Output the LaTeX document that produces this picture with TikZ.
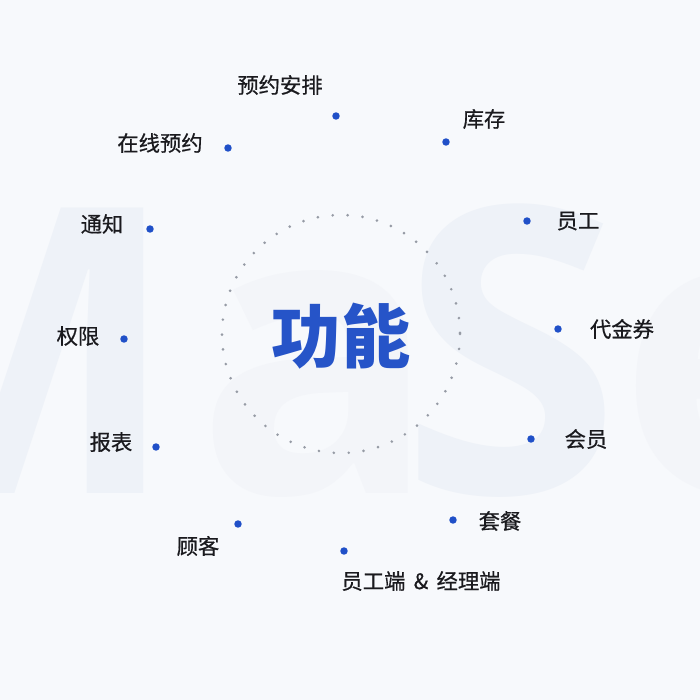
\documentclass[tikz,border=0pt]{standalone}
\usepackage{fontspec}
\usepackage{xcolor}
\usepackage{tikz}
\usetikzlibrary{positioning, calc}
\newfontfamily\cjk{Noto Sans CJK SC}
\newfontfamily\cjkmid[FakeBold=0.6]{Noto Sans CJK SC}
\newfontfamily\markfont{Open Sans}
\definecolor{FnBack}{RGB}{247, 249, 252}
\definecolor{FnBlue}{RGB}{32, 80, 200}
\definecolor{FnTitle}{RGB}{38, 84, 200}
\definecolor{FnText}{RGB}{26, 26, 30}
\definecolor{FnRing}{RGB}{150, 155, 165}
\definecolor{FnMarkFill}{RGB}{238, 242, 248}
\definecolor{FnMarkLine}{RGB}{243, 245, 249}
\tikzset{
  featdot/.style={circle, fill=FnBlue, minimum size=5.6pt, inner sep=0pt},
  featlabel/.style={font=\cjkmid\fontsize{16}{18}\selectfont, text=FnText, inner sep=0pt},
  bigmark/.style={font=\markfont\bfseries\fontsize{300}{300}\selectfont, inner sep=0pt, anchor=base west}
}

\begin{document}
\begin{tikzpicture}[x=0.75pt, y=-0.75pt]
    \path[use as bounding box, fill=FnBack] (0,0) rectangle (700,700);
    % watermark letters
    \node[bigmark, anchor=base east, text=FnMarkFill] (markM) at (180,493) {M};
    \node[bigmark, text=FnMarkLine] (markA) at (196,493) {a};
    \node[bigmark, text=FnMarkFill] (markS) at (400,493) {S};
    \node[bigmark, text=FnMarkLine] (markE) at (618,493) {e};
    % ring of small dots
    \coordinate (hub) at (341,334);
    \draw[FnRing, line width=2.2pt, line cap=round, dash pattern=on 0pt off 11.2pt] (hub) circle[radius=119];
    \node[font=\cjk\bfseries\fontsize{52}{56}\selectfont, text=FnTitle] (title) at (341,336) {功能};
    % features
    \node[featdot] (dYuyue) at (336,116) {};
    \node[featlabel] (tYuyue) at (280,85) {预约安排};
    \node[featdot] (dOnline) at (228,148) {};
    \node[featlabel] (tOnline) at (160,143) {在线预约};
    \node[featdot] (dStock) at (446,142) {};
    \node[featlabel] (tStock) at (484,119) {库存};
    \node[featdot] (dNotice) at (150,229) {};
    \node[featlabel] (tNotice) at (102,224) {通知};
    \node[featdot] (dStaff) at (527,221) {};
    \node[featlabel] (tStaff) at (578,221) {员工};
    \node[featdot] (dRights) at (124,339) {};
    \node[featlabel] (tRights) at (78,336) {权限};
    \node[featdot] (dVoucher) at (558,329) {};
    \node[featlabel] (tVoucher) at (622,329) {代金券};
    \node[featdot] (dReport) at (156,447) {};
    \node[featlabel] (tReport) at (111,442) {报表};
    \node[featdot] (dMember) at (531,439) {};
    \node[featlabel] (tMember) at (586,439) {会员};
    \node[featdot] (dClient) at (238,524) {};
    \node[featlabel] (tClient) at (198,546) {顾客};
    \node[featdot] (dCombo) at (453,520) {};
    \node[featlabel] (tCombo) at (500,521) {套餐};
    \node[featdot] (dApps) at (344,551) {};
    \node[featlabel] (tApps) at (421,581) {员工端\,\ \&\ \,经理端};
  \end{tikzpicture}
\end{document}
